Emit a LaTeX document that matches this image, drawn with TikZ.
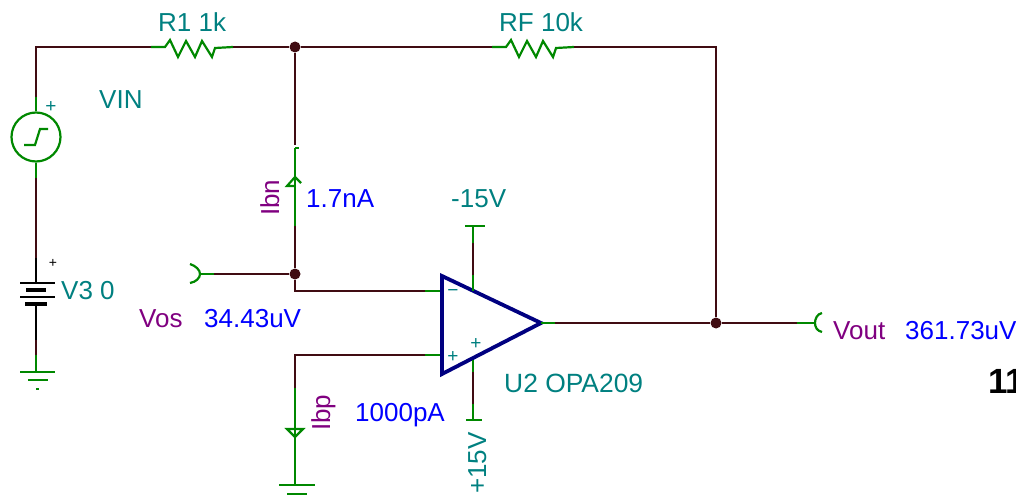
\documentclass[tikz,border=0pt]{standalone}
\usepackage{fontspec}
\setmainfont{Liberation Sans}
\usepackage{xcolor}
\definecolor{wirebrown}{RGB}{64,12,18}
\definecolor{pingreen}{RGB}{0,136,0}
\definecolor{labelteal}{RGB}{0,128,128}
\definecolor{valueblue}{RGB}{0,0,255}
\definecolor{namepurple}{RGB}{128,0,128}
\definecolor{ampblue}{RGB}{0,0,128}
\tikzset{>=stealth}
\tikzset{%
    wire/.style={draw=wirebrown, line width=2.2pt},
    pin/.style={draw=pingreen, line width=2.2pt},
    dotnode/.style={circle, fill=wirebrown, inner sep=0pt, minimum size=11pt},
    txt/.style={anchor=base west, inner sep=0pt, font=\fontsize{26}{28}\selectfont},
    sign/.style={inner sep=0pt, text=labelteal, font=\fontsize{19}{20}\selectfont}
}
\begin{document}
\begin{tikzpicture}[x=1pt,y=-1pt]
\useasboundingbox (0,0) rectangle (1016,500);

% corners and junctions
\coordinate (topleft) at (36,47);
\coordinate (topright) at (716,47);
\coordinate (invcorner) at (295,291);
\coordinate (noncorner) at (295,355);
\node[dotnode] (topdot) at (295,47) {};
\node[dotnode] (vosdot) at (295,274) {};
\node[dotnode] (outdot) at (716,323) {};

% resistors
\coordinate (r1a) at (151,47);
\coordinate (r1b) at (233,47);
\coordinate (rfa) at (492,47);
\coordinate (rfb) at (574,47);
\draw[pin] (r1a) -- ++(14,0) -- ++(5,-7) -- ++(8,17) -- ++(8,-16) -- ++(9,16) -- ++(7,-16) -- ++(10,16) -- ++(3,-9) -- (r1b);
\draw[pin] (rfa) -- ++(14,0) -- ++(5,-7) -- ++(8,17) -- ++(8,-16) -- ++(9,16) -- ++(7,-16) -- ++(10,16) -- ++(3,-9) -- (rfb);

% top wires
\coordinate (srctop) at (36,97);
\draw[wire] (srctop) -- (topleft) -- (r1a);
\draw[wire] (r1b) -- (topdot) -- (rfa);
\draw[wire] (rfb) -- (topright) -- (outdot);

% step source
\node[circle, draw=pingreen, line width=2.2pt, minimum size=49pt, inner sep=0pt] (vin) at (36,137) {};
\coordinate (vinlow) at (36,178);
\draw[pin] (srctop) -- (vin.north);
\draw[pin] (vin.south) -- (vinlow);
\draw[pin] (24,145) -- (35,145) -- (40,129) -- (48,129);

% battery
\coordinate (batup) at (36,258);
\coordinate (batplate) at (36,282);
\coordinate (batlow) at (36,304);
\coordinate (batend) at (36,340);
\coordinate (gndwire) at (36,355);
\coordinate (gnda) at (36,372);
\draw[wire] (vinlow) -- (batup);
\draw[black, line width=2.2pt] (batup) -- (batplate);
\draw[black, line width=2.2pt] (20,283) -- (55,283);
\draw[black, line width=4pt] (26,290) -- (46,290);
\draw[black, line width=2.2pt] (20,297) -- (55,297);
\draw[black, line width=4pt] (25,304) -- (47,304);
\draw[black, line width=2.2pt] (batlow) -- (batend);
\draw[wire] (batend) -- (gndwire);
\draw[pin] (gndwire) -- (gnda);
\draw[pin] (20,372) -- (55,372);
\draw[pin] (28,380) -- (48,380);
\draw[pin] (36,389) -- (39,389);

% Ibn branch
\coordinate (ibntop) at (295,145);
\coordinate (ibnend) at (295,148);
\coordinate (ibnlow) at (295,226);
\draw[wire] (topdot) -- (ibntop);
\draw[pin] (ibnend) -- (ibnlow);
\draw[pin] (295,148) -- (299,148);
\draw[pin] (295,186) -- (287,186) -- (295,177) -- (301,183);
\draw[wire] (ibnlow) -- (vosdot);

% Vos probe
\coordinate (vosend) at (200,274);
\coordinate (voswire) at (214,274);
\draw[wire] (vosdot) -- (voswire);
\draw[pin] (voswire) -- (vosend);
\draw[pin] (190,264) .. controls (196,266) and (200,270) .. (200,274) .. controls (200,278) and (196,282) .. (190,283);

% op amp
\coordinate (ampa) at (442,276);
\coordinate (ampb) at (442,374);
\coordinate (ampout) at (541,323);
\coordinate (invin) at (442,291);
\coordinate (invpin) at (425,291);
\coordinate (nonin) at (442,355);
\coordinate (nonpin) at (425,355);
\draw[wire] (vosdot) -- (invcorner) -- (invpin);
\draw[pin] (invpin) -- (invin);
\draw[pin] (nonpin) -- (nonin);
\draw[ampblue, line width=3.8pt, line join=miter] (ampa) -- (ampout) -- (ampb) -- cycle;

% supply pins
\coordinate (negtop) at (473,226);
\coordinate (negup) at (473,243);
\coordinate (neglow) at (473,275);
\coordinate (negamp) at (473,291);
\draw[pin] (negtop) -- (negup);
\draw[wire] (negup) -- (neglow);
\draw[pin] (neglow) -- (negamp);
\draw[pin] (465,226) -- (485,226);
\coordinate (posamp) at (473,360);
\coordinate (posup) at (473,372);
\coordinate (poslow) at (473,404);
\coordinate (posend) at (473,420);
\draw[pin] (posamp) -- (posup);
\draw[wire] (posup) -- (poslow);
\draw[pin] (poslow) -- (posend);
\draw[pin] (466,420) -- (482,420);

% Ibp branch
\coordinate (ibpup) at (295,388);
\coordinate (ibpgnd) at (295,485);
\draw[wire] (nonpin) -- (noncorner) -- (ibpup);
\draw[pin] (ibpup) -- (ibpgnd);
\draw[pin] (287,429) -- (303,429) -- (295,437) -- cycle;
\draw[pin] (279,485) -- (315,485);
\draw[pin] (287,494) -- (307,494);

% output
\coordinate (outpin) at (555,323);
\coordinate (probewire) at (797,323);
\coordinate (probeend) at (815,323);
\draw[pin] (ampout) -- (outpin);
\draw[wire] (outpin) -- (outdot) -- (probewire);
\draw[pin] (probewire) -- (probeend);
\draw[pin] (822,313) .. controls (817,314) and (815,319) .. (815,323) .. controls (815,327) and (817,331) .. (822,332);

% labels
\node[txt, text=labelteal] (r1label) at (158,32) {R1 1k};
\node[txt, text=labelteal] (rflabel) at (499,32) {RF 10k};
\node[txt, text=labelteal] (vinlabel) at (99,109) {VIN};
\node[txt, text=labelteal] (v3label) at (61,299) {V3 0};
\node[txt, text=namepurple] (vosname) at (139,327) {Vos};
\node[txt, text=valueblue] (vosvalue) at (204,327) {34.43uV};
\node[txt, text=namepurple, rotate=90] (ibnname) at (279,216) {Ibn};
\node[txt, text=valueblue] (ibnvalue) at (306,207) {1.7nA};
\node[txt, text=labelteal] (neglabel) at (451,207) {-15V};
\node[txt, text=namepurple, rotate=90] (ibpname) at (330,431) {Ibp};
\node[txt, text=valueblue] (ibpvalue) at (355,421) {1000pA};
\node[txt, text=labelteal, rotate=90] (poslabel) at (486,494) {+15V};
\node[txt, text=labelteal, font=\fontsize{26.4}{28}\selectfont] (amplabel) at (504,392) {U2 OPA209};
\node[txt, text=namepurple] (outname) at (833,339) {Vout};
\node[txt, text=valueblue] (outvalue) at (905,339) {361.73uV};
\node[anchor=base west, inner sep=0pt, font=\fontsize{35}{38}\selectfont\bfseries] (sidemark) at (988,393) {11};
\node[sign] (vinplus) at (51,107) {+};
\node[sign, text=black, font=\fontsize{14}{15}\selectfont] (batplus) at (53,263) {+};
\node[sign] (invsign) at (453,293) {−};
\node[sign] (nonsign) at (453,357) {+};
\node[sign] (possign) at (476,344) {+};
\end{tikzpicture}
\end{document}
